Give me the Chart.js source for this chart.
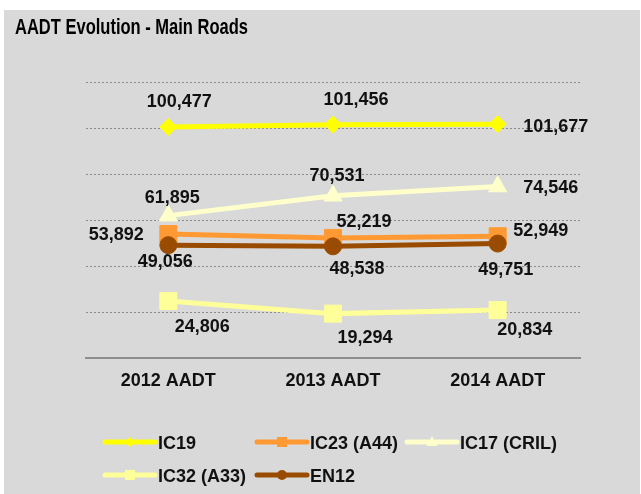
<!DOCTYPE html>
<html>
<head>
<meta charset="utf-8">
<script src="https://cdn.jsdelivr.net/npm/chart.js@4.4.1/dist/chart.umd.min.js"></script>
<style>
  html, body { margin: 0; padding: 0; background: #fff; }
  #wrap { position: relative; width: 641px; height: 494px; }
</style>
</head>
<body>
<div id="wrap"><canvas id="chart" width="641" height="494"></canvas></div>
<script>
// data
const years = ["2012 AADT", "2013 AADT", "2014 AADT"];
const ic19 = [100477, 101456, 101677];
const ic23 = [53892, 52219, 52949];
const ic17 = [61895, 70531, 74546];
const ic32 = [24806, 19294, 20834];
const en12 = [49056, 48538, 49751];
const seriesNames = ["IC19", "IC23 (A44)", "IC17 (CRIL)", "IC32 (A33)", "EN12"];

// label nudges (relative to the point), per series
const labelNudge = [
    [[11, -26], [23, -26], [58, 1]],
    [[-52, -1], [31, -17], [43, -7]],
    [[4, -19], [4, -21], [53, 0]],
    [[34, 25], [32, 23], [27, 18]],
    [[-3, 15], [24, 21], [8, 25]]
];
const colors = ["#ffff00", "#ff9933", "#ffffcc", "#ffff99", "#994c00"];
const styles = ["rectRot", "rect", "triangle", "rect", "circle"];
const radii = [8.5, 12, 10.5, 12, 8.5];
const legendSpots = [[105, 442], [257, 442], [407, 442], [105, 475], [257, 475]];

const fmt = v => v.toLocaleString("en-US");

const bgPlugin = {
    id: "bg",
    beforeDraw(chart) {
        const ctx = chart.ctx;
        ctx.save();
        ctx.fillStyle = "#ffffff";
        ctx.fillRect(0, 0, chart.width, chart.height);
        ctx.fillStyle = "#d9d9d9";
        ctx.fillRect(4, 10, 636, 484);
        // title, squeezed to the width it has in the picture
        ctx.fillStyle = "#000";
        ctx.font = "bold 22px 'Liberation Sans Narrow', 'Liberation Sans', Arial, sans-serif";
        ctx.textBaseline = "alphabetic";
        const w = ctx.measureText("AADT Evolution - Main Roads").width;
        ctx.translate(15, 34);
        ctx.scale(233 / w, 1);
        ctx.fillText("AADT Evolution - Main Roads", 0, 0);
        ctx.restore();
    }
};

function smallMarker(ctx, style, x, y, color) {
    ctx.fillStyle = color;
    ctx.beginPath();
    if (style === "rectRot") {
        ctx.moveTo(x - 5, y); ctx.lineTo(x, y - 5); ctx.lineTo(x + 5, y); ctx.lineTo(x, y + 5);
    } else if (style === "rect") {
        ctx.rect(x - 5, y - 5, 10, 10);
    } else if (style === "triangle") {
        ctx.moveTo(x, y - 6); ctx.lineTo(x + 5.5, y + 4); ctx.lineTo(x - 5.5, y + 4);
    } else {
        ctx.arc(x, y, 5, 0, Math.PI * 2);
    }
    ctx.closePath();
    ctx.fill();
}

const labelPlugin = {
    id: "labels",
    afterDatasetsDraw(chart) {
        const ctx = chart.ctx;
        ctx.save();
        ctx.font = "bold 18px 'Liberation Sans', Arial, sans-serif";
        ctx.fillStyle = "#111";
        ctx.textAlign = "center";
        ctx.textBaseline = "alphabetic";
        chart.data.datasets.forEach((ds, i) => {
            const meta = chart.getDatasetMeta(i);
            meta.data.forEach((pt, j) => {
                const [dx, dy] = labelNudge[i][j];
                ctx.fillText(fmt(ds.data[j]), pt.x + dx, pt.y + dy + 6.5);
            });
        });
        ctx.restore();
    },
    afterDraw(chart) {
        const ctx = chart.ctx;
        ctx.save();
        ctx.font = "bold 18px 'Liberation Sans', Arial, sans-serif";
        ctx.textBaseline = "alphabetic";
        chart.data.datasets.forEach((ds, i) => {
            const [x, y] = legendSpots[i];
            ctx.strokeStyle = ds.borderColor;
            ctx.lineWidth = 5;
            ctx.lineCap = "round";
            ctx.beginPath();
            ctx.moveTo(x, y);
            ctx.lineTo(x + 50, y);
            ctx.stroke();
            smallMarker(ctx, styles[i], x + 25, y, ds.borderColor);
            ctx.fillStyle = "#111";
            ctx.fillText(ds.label, x + 53, y + 6.5);
        });
        ctx.restore();
    }
};

const series = [ic19, ic23, ic17, ic32, en12];

new Chart(document.getElementById("chart"), {
    type: "line",
    data: {
        labels: years,
        datasets: series.map((d, i) => ({
            label: seriesNames[i],
            data: d,
            borderColor: colors[i],
            backgroundColor: colors[i],
            borderWidth: 5,
            pointStyle: styles[i],
            pointRadius: radii[i],
            pointBorderWidth: 1,
            pointBorderColor: colors[i],
            pointBackgroundColor: colors[i],
            tension: 0,
            order: series.length - i
        }))
    },
    options: {
        responsive: false,
        animation: false,
        events: [],
        layout: { padding: { left: 86, right: 61, top: 82, bottom: 96 } },
        plugins: {
            legend: { display: false },
            title: { display: false },
            tooltip: { enabled: false }
        },
        scales: {
            x: {
                offset: true,
                grid: { display: false, drawTicks: false },
                border: { display: true, color: "#8e8e8e", width: 2 },
                ticks: {
                    padding: 12,
                    color: "#111",
                    font: { family: "'Liberation Sans', Arial, sans-serif", size: 18, weight: "bold" }
                },
                afterFit: s => { s.height = 40; }
            },
            y: {
                min: 0,
                max: 120000,
                ticks: { display: false, stepSize: 20000 },
                grid: { color: "#8a8a8a", lineWidth: 1, drawTicks: false },
                border: { display: false, dash: [2, 2] },
                afterFit: s => { s.width = 0; }
            }
        }
    },
    plugins: [bgPlugin, labelPlugin]
});
</script>
</body>
</html>
